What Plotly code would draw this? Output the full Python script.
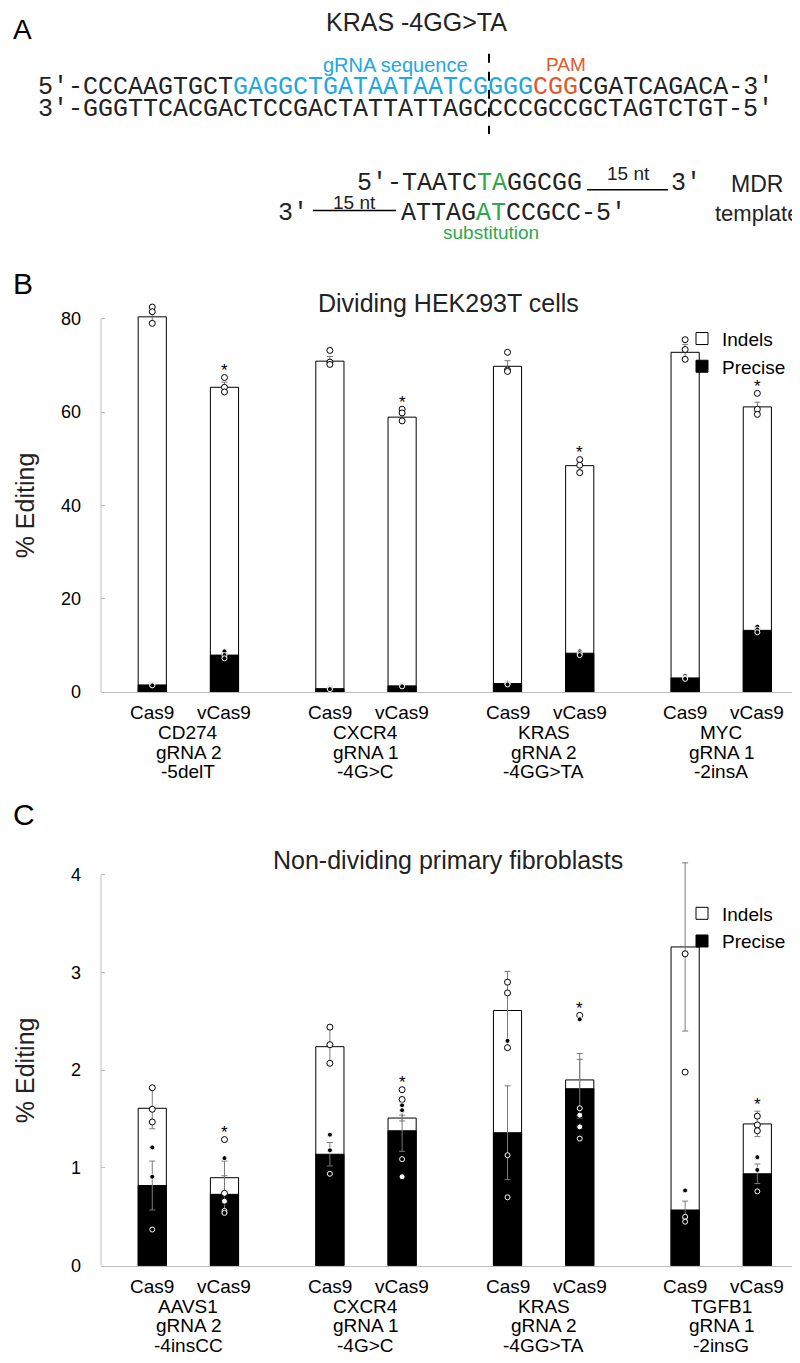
import plotly.graph_objects as go

W, H = 800, 1363

# ---------------- data ----------------
enzymes = ["Cas9", "vCas9"]

# Panel A sequences
seq_top_left = "5′-CCCAAGTGCT"
seq_top_grna = "GAGGCTGATAATAATCGGGG"
seq_top_pam = "CGG"
seq_top_right = "CGATCAGACA-3′"
seq_bottom = "3′-GGGTTCACGACTCCGACTATTATTAGCCCCGCCGCTAGTCTGT-5′"
mdr_top = ["5′-TAATC", "TA", "GGCGG"]
mdr_bottom = ["ATTAG", "AT", "CCGCC-5′"]

# Panel B: dividing HEK293T cells
genes_b = ["CD274", "CXCR4", "KRAS", "MYC"]
grna_b = ["gRNA 2", "gRNA 1", "gRNA 2", "gRNA 1"]
mut_b = ["-5delT", "-4G>C", "-4GG>TA", "-2insA"]
yticks_b = [0, 20, 40, 60, 80]
indels_b = [80.4, 65.3, 70.9, 58.9, 69.8, 48.5, 72.8, 61.1]
indels_b_err = [1.0, 1.1, 1.0, 0.7, 1.2, 1.0, 1.7, 1.0]
precise_b = [1.5, 7.9, 0.7, 1.3, 1.8, 8.3, 3.0, 13.2]
precise_b_err = [0.2, 0.4, 0.1, 0.2, 0.2, 0.3, 0.3, 0.5]
indels_b_reps = [[82.5, 81.5, 79.0], [67.4, 65.3, 64.3], [73.2, 70.7, 70.2], [60.6, 59.8, 58.1],
                 [72.8, 69.0, 68.7], [49.8, 48.6, 47.0], [75.5, 73.4, 71.3], [64.0, 60.6, 59.5]]
precise_b_reps = [[1.6, 1.5, 1.4], [8.7, 7.9, 7.2], [0.9, 0.7, 0.6], [1.5, 1.3, 1.2],
                  [2.0, 1.8, 1.6], [8.7, 8.3, 7.9], [3.4, 3.0, 2.8], [14.0, 13.4, 12.8]]

# Panel C: non-dividing primary fibroblasts
genes_c = ["AAVS1", "CXCR4", "KRAS", "TGFB1"]
grna_c = ["gRNA 2", "gRNA 1", "gRNA 2", "gRNA 1"]
mut_c = ["-4insCC", "-4G>C", "-4GG>TA", "-2insG"]
yticks_c = [0, 1, 2, 3, 4]
indels_c = [1.61, 0.90, 2.24, 1.51, 2.61, 1.90, 3.26, 1.45]
indels_c_err = [0.21, 0.17, 0.18, 0.03, 0.40, 0.27, 0.86, 0.13]
precise_c = [0.82, 0.73, 1.14, 1.38, 1.36, 1.81, 0.57, 0.94]
precise_c_err = [0.25, 0.19, 0.12, 0.21, 0.48, 0.30, 0.09, 0.10]
indels_c_reps = [[1.82, 1.60, 1.47], [1.29, 0.74, 0.66], [2.44, 2.26, 2.07], [1.80, 1.70, 0.91],
                 [2.90, 2.79, 2.23], [2.56, 1.54, 1.42], [4.67, 3.19, 1.98], [1.53, 1.44, 1.38]]
precise_c_reps = [[1.21, 0.91, 0.37], [1.10, 0.56, 0.54], [1.34, 1.18, 0.94], [1.64, 1.59, 1.09],
                  [2.30, 1.13, 0.70], [2.52, 1.61, 1.30], [0.77, 0.50, 0.45], [1.11, 0.98, 0.76]]
significant = [False, True, False, True, False, True, False, True]

# ---------------- helpers ----------------
SANS = "Liberation Sans, Arial, Helvetica, sans-serif"
MONO = "Liberation Mono, DejaVu Sans Mono, monospace"
BLUE = "#22A7E0"
ORANGE = "#E4572B"
GREEN = "#2EA84A"
TXT = "#222222"
AXC = "#bdbdbd"


def px(x):
    return x / W


def py(y):
    return 1 - y / H


group_step = 2.46
xpos = [g * group_step + j for g in range(4) for j in range(2)]
group_centers = [g * group_step + 0.5 for g in range(4)]

fig = go.Figure()


def add_panel(xa, ya, legend, indels, ierr, precise, perr, irep, prep):
    fig.add_trace(go.Bar(
        x=xpos, y=indels, width=0.39, name="Indels", legend=legend,
        marker=dict(color="white", line=dict(color="black", width=1)),
        error_y=dict(type="data", array=ierr, color="#7a7a7a", thickness=1, width=3),
        xaxis=xa, yaxis=ya, hoverinfo="skip"))
    fig.add_trace(go.Bar(
        x=xpos, y=precise, width=0.39, name="Precise", legend=legend,
        marker=dict(color="black", line=dict(color="black", width=1)),
        error_y=dict(type="data", array=perr, color="#7a7a7a", thickness=1, width=3),
        xaxis=xa, yaxis=ya, hoverinfo="skip"))
    xs, ys = [], []
    for x, reps in zip(xpos, irep):
        for v in reps:
            xs.append(x)
            ys.append(v)
    fig.add_trace(go.Scatter(
        x=xs, y=ys, mode="markers", showlegend=False, cliponaxis=False,
        marker=dict(symbol="circle", size=6, color="white", line=dict(color="black", width=1)),
        xaxis=xa, yaxis=ya, hoverinfo="skip"))
    xs, ys = [], []
    for x, reps in zip(xpos, prep):
        for v in reps:
            xs.append(x)
            ys.append(v)
    fig.add_trace(go.Scatter(
        x=xs, y=ys, mode="markers", showlegend=False, cliponaxis=False,
        marker=dict(symbol="circle", size=5, color="black", line=dict(color="white", width=1)),
        xaxis=xa, yaxis=ya, hoverinfo="skip"))


add_panel("x", "y", "legend", indels_b, indels_b_err, precise_b, precise_b_err, indels_b_reps, precise_b_reps)
add_panel("x2", "y2", "legend2", indels_c, indels_c_err, precise_c, precise_c_err, indels_c_reps, precise_c_reps)

annotations = []
shapes = []


def txt(text, x, y, size, color=TXT, family=SANS, xanchor="center", **kw):
    annotations.append(dict(text=text, x=px(x), y=py(y), xref="paper", yref="paper",
                            xanchor=xanchor, yanchor="middle", showarrow=False,
                            font=dict(family=family, size=size, color=color), **kw))


# ---------------- Panel A ----------------
txt("A", 3, 22, 28, color="black", xanchor="left")
txt("KRAS -4GG>TA", 408, 14, 25)
txt("gRNA sequence", 387, 57, 20, color=BLUE)
txt("PAM", 558, 57, 19, color=ORANGE)
top_html = (seq_top_left + f"<span style='color:{BLUE}'>" + seq_top_grna + "</span>"
            + f"<span style='color:{ORANGE}'>" + seq_top_pam + "</span>" + seq_top_right)
txt(top_html, 28, 80, 25, family=MONO, xanchor="left")
txt(seq_bottom, 28, 102, 25, family=MONO, xanchor="left")
shapes.append(dict(type="line", xref="paper", yref="paper", x0=px(481), x1=px(481), y0=py(46), y1=py(127),
                   line=dict(color="black", width=2, dash="dash")))

mdr_top_html = mdr_top[0] + f"<span style='color:{GREEN}'>" + mdr_top[1] + "</span>" + mdr_top[2]
txt(mdr_top_html, 347, 177, 25, family=MONO, xanchor="left")
txt("3′", 661, 177, 25, family=MONO, xanchor="left")
shapes.append(dict(type="line", xref="paper", yref="paper", x0=px(579), x1=px(660), y0=py(183), y1=py(183),
                   line=dict(color="black", width=1.5)))
txt("15 nt", 620, 167, 19)
mdr_bot_html = mdr_bottom[0] + f"<span style='color:{GREEN}'>" + mdr_bottom[1] + "</span>" + mdr_bottom[2]
txt("3′", 268, 207, 25, family=MONO, xanchor="left")
shapes.append(dict(type="line", xref="paper", yref="paper", x0=px(305), x1=px(388), y0=py(204), y1=py(204),
                   line=dict(color="black", width=1.5)))
txt("15 nt", 346, 196, 19)
txt(mdr_bot_html, 391, 207, 25, family=MONO, xanchor="left")
txt("substitution", 483, 226, 19, color=GREEN)
txt("MDR", 749, 177, 23)
txt("template", 749, 207, 22)

# ---------------- Panels B / C ----------------
X0, X1 = 93, 797
panels = [
    dict(xa="x", ya="y", base=689, pxu=4.7, ymax=83, ticks=yticks_b, letter="B", letter_y=278,
         title="Dividing HEK293T cells", title_y=297, legend_y=314,
         genes=genes_b, grna=grna_b, mut=mut_b, indels=indels_b, ierr=indels_b_err, irep=indels_b_reps),
    dict(xa="x2", ya="y2", base=1267, pxu=98.5, ymax=4.2, ticks=yticks_c, letter="C", letter_y=812,
         title="Non-dividing primary fibroblasts", title_y=858, legend_y=893,
         genes=genes_c, grna=grna_c, mut=mut_c, indels=indels_c, ierr=indels_c_err, irep=indels_c_reps),
]

layout_axes = {}
for n, p in enumerate(panels):
    top_px = p["base"] - p["ymax"] * p["pxu"]
    tick_top_px = p["base"] - p["ticks"][-1] * p["pxu"]
    sfx = "" if n == 0 else "2"
    layout_axes["xaxis" + sfx] = dict(domain=[px(X0), px(X1)], range=[-0.71, 9.04], showticklabels=False,
                                      ticks="", showline=True, linecolor=AXC, linewidth=1, anchor="y" + sfx,
                                      showgrid=False, zeroline=False)
    layout_axes["yaxis" + sfx] = dict(domain=[py(p["base"]), py(top_px)], range=[0, p["ymax"]],
                                      tickvals=p["ticks"], ticks="inside", ticklen=4, tickcolor=AXC,
                                      showline=False, tickfont=dict(family=SANS, size=18, color="black"),
                                      ticklabelstandoff=19, anchor="x" + sfx, showgrid=False, zeroline=False)
    # y axis line only up to the last tick
    shapes.append(dict(type="line", xref="x" + sfx + " domain", yref="y" + sfx, x0=0, x1=0,
                       y0=0, y1=p["ticks"][-1], line=dict(color=AXC, width=1)))
    txt(p["letter"], 3, p["letter_y"], 30, color="black", xanchor="left")
    txt(p["title"], 440, p["title_y"], 25)
    txt("% Editing", 17, (tick_top_px + p["base"]) / 2, 25, textangle=-90)
    for i, x in enumerate(xpos):
        annotations.append(dict(text=enzymes[i % 2], x=x, y=py(p["base"] + 21), xref=p["xa"], yref="paper",
                                xanchor="center", yanchor="middle", showarrow=False,
                                font=dict(family=SANS, size=19, color="black")))
    for g, xc in enumerate(group_centers):
        for k, lab in enumerate([p["genes"][g], p["grna"][g], p["mut"][g]]):
            annotations.append(dict(text=lab, x=xc, y=py(p["base"] + 41 + 19.5 * k), xref=p["xa"],
                                    yref="paper", xanchor="center", yanchor="middle", showarrow=False,
                                    font=dict(family=SANS, size=19, color="black")))
    for i, x in enumerate(xpos):
        if significant[i]:
            ytop = max(max(p["irep"][i]), p["indels"][i] + p["ierr"][i])
            annotations.append(dict(text="*", x=x, y=ytop, xref=p["xa"], yref=p["ya"],
                                    xanchor="center", yanchor="middle", yshift=7, showarrow=False,
                                    font=dict(family=SANS, size=17, color="black")))

leg_common = dict(xanchor="left", yanchor="top", font=dict(family=SANS, size=19, color="black"),
                  bgcolor="rgba(0,0,0,0)", tracegroupgap=0)
fig.update_layout(
    width=W, height=H, margin=dict(l=0, r=0, t=0, b=0),
    paper_bgcolor="white", plot_bgcolor="white",
    barmode="overlay", showlegend=True,
    font=dict(family=SANS, color=TXT),
    legend=dict(x=px(674), y=py(panels[0]["legend_y"]), **leg_common),
    legend2=dict(x=px(674), y=py(panels[1]["legend_y"]), **leg_common),
    annotations=annotations,
    shapes=shapes,
    **layout_axes,
)

fig.write_html("out.html")
